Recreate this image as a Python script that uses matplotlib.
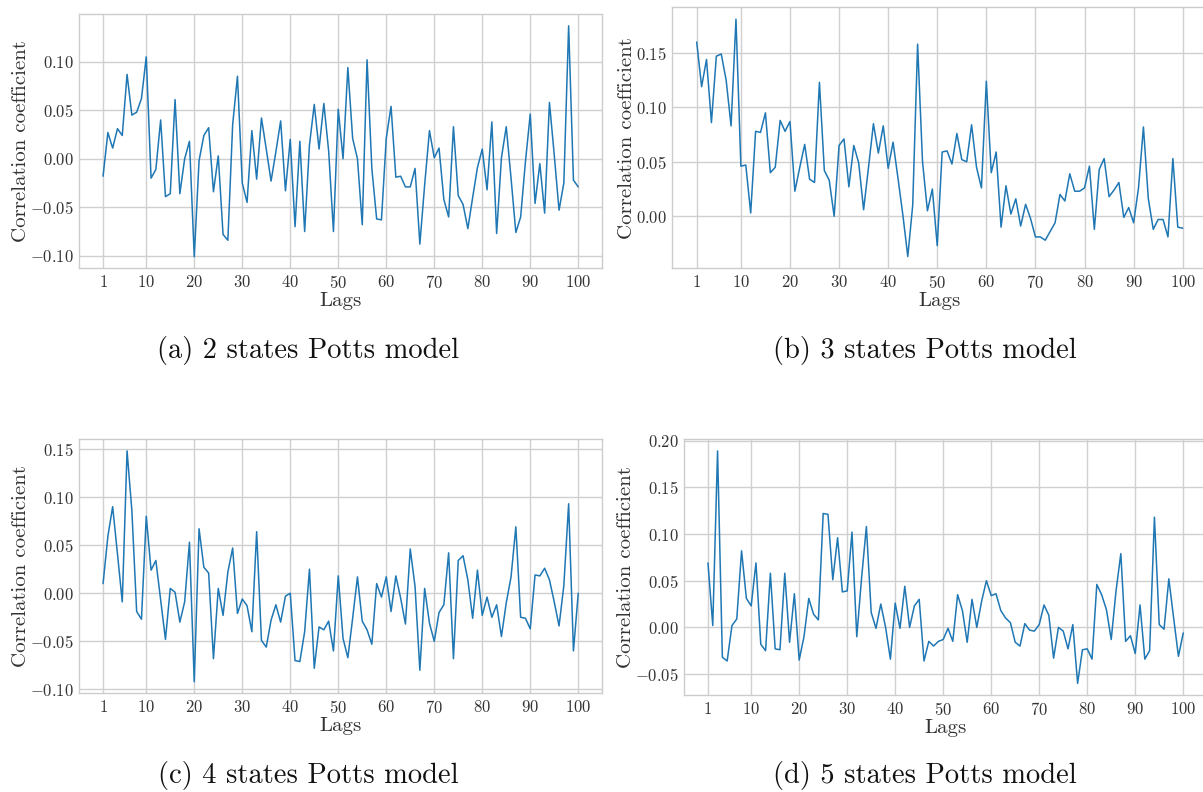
import matplotlib
matplotlib.use("Agg")
import matplotlib.pyplot as plt
import numpy as np

lags = list(range(1, 101))
xtick_vals = [1, 10, 20, 30, 40, 50, 60, 70, 80, 90, 100]

potts2 = [-0.018, 0.027, 0.011, 0.031, 0.024, 0.087, 0.045, 0.048, 0.062, 0.105,
          -0.020, -0.011, 0.040, -0.039, -0.036, 0.061, -0.036, 0.000, 0.018, -0.101,
          -0.002, 0.024, 0.032, -0.034, 0.003, -0.078, -0.084, 0.035, 0.085, -0.025,
          -0.045, 0.029, -0.021, 0.042, 0.010, -0.023, 0.007, 0.039, -0.033, 0.020,
          -0.070, 0.018, -0.075, 0.014, 0.056, 0.010, 0.057, 0.008, -0.075, 0.051,
          0.000, 0.094, 0.021, 0.000, -0.068, 0.102, -0.010, -0.062, -0.063, 0.021,
          0.054, -0.019, -0.018, -0.029, -0.029, -0.010, -0.088, -0.027, 0.029, 0.001,
          0.011, -0.042, -0.060, 0.033, -0.038, -0.047, -0.072, -0.040, -0.009, 0.010,
          -0.032, 0.038, -0.077, 0.001, 0.033, -0.020, -0.076, -0.060, -0.003, 0.046,
          -0.046, -0.005, -0.056, 0.058, 0.004, -0.053, -0.025, 0.137, -0.022, -0.029]

potts3 = [0.160, 0.119, 0.144, 0.086, 0.147, 0.149, 0.125, 0.083, 0.181, 0.046,
          0.047, 0.003, 0.078, 0.077, 0.095, 0.040, 0.045, 0.088, 0.078, 0.087,
          0.023, 0.045, 0.066, 0.034, 0.031, 0.123, 0.042, 0.033, 0.000, 0.065,
          0.071, 0.027, 0.065, 0.049, 0.006, 0.045, 0.085, 0.058, 0.083, 0.044,
          0.068, 0.035, 0.001, -0.037, 0.010, 0.158, 0.050, 0.005, 0.025, -0.027,
          0.059, 0.060, 0.048, 0.076, 0.052, 0.050, 0.084, 0.045, 0.026, 0.124,
          0.040, 0.059, -0.010, 0.028, 0.002, 0.016, -0.009, 0.011, -0.002, -0.019,
          -0.019, -0.022, -0.014, -0.006, 0.020, 0.014, 0.039, 0.023, 0.023, 0.026,
          0.046, -0.012, 0.043, 0.053, 0.018, 0.024, 0.031, -0.001, 0.008, -0.006,
          0.026, 0.082, 0.016, -0.012, -0.003, -0.003, -0.019, 0.053, -0.010, -0.011]

potts4 = [0.010, 0.059, 0.090, 0.041, -0.009, 0.148, 0.086, -0.019, -0.027, 0.080,
          0.024, 0.034, -0.007, -0.048, 0.005, 0.001, -0.030, -0.009, 0.053, -0.092,
          0.067, 0.027, 0.021, -0.068, 0.005, -0.023, 0.022, 0.047, -0.021, -0.006,
          -0.013, -0.040, 0.064, -0.049, -0.056, -0.028, -0.012, -0.030, -0.003, 0.000,
          -0.070, -0.071, -0.040, 0.025, -0.078, -0.035, -0.038, -0.029, -0.060, 0.018,
          -0.047, -0.067, -0.026, 0.017, -0.029, -0.038, -0.053, 0.010, -0.004, 0.017,
          -0.019, 0.018, -0.005, -0.032, 0.046, 0.007, -0.080, 0.005, -0.031, -0.050,
          -0.020, -0.012, 0.042, -0.068, 0.034, 0.039, 0.014, -0.026, 0.024, -0.023,
          -0.004, -0.025, -0.012, -0.045, -0.010, 0.017, 0.069, -0.025, -0.026, -0.037,
          0.019, 0.018, 0.026, 0.014, -0.009, -0.034, 0.008, 0.093, -0.060, 0.000]

potts5 = [0.069, 0.002, 0.189, -0.032, -0.036, 0.002, 0.009, 0.082, 0.031, 0.023,
          0.069, -0.018, -0.025, 0.058, -0.023, -0.024, 0.058, -0.016, 0.036, -0.035,
          -0.010, 0.031, 0.014, 0.008, 0.122, 0.121, 0.051, 0.096, 0.038, 0.039,
          0.102, -0.010, 0.053, 0.108, 0.016, -0.001, 0.025, 0.000, -0.034, 0.026,
          -0.001, 0.044, 0.000, 0.023, 0.030, -0.036, -0.015, -0.020, -0.015, -0.013,
          -0.001, -0.015, 0.035, 0.018, -0.016, 0.030, 0.000, 0.028, 0.050, 0.034,
          0.036, 0.018, 0.010, 0.005, -0.016, -0.020, 0.004, -0.003, -0.004, 0.003,
          0.024, 0.013, -0.033, 0.000, -0.004, -0.023, 0.003, -0.060, -0.024, -0.023,
          -0.034, 0.046, 0.035, 0.019, -0.013, 0.039, 0.079, -0.015, -0.009, -0.028,
          0.024, -0.034, -0.025, 0.118, 0.003, -0.002, 0.052, 0.010, -0.031, -0.006]

captions = ["(a) 2 states Potts model", "(b) 3 states Potts model",
            "(c) 4 states Potts model", "(d) 5 states Potts model"]
series = [potts2, potts3, potts4, potts5]

plt.style.use("seaborn-v0_8-whitegrid")
plt.rcParams["font.family"] = "serif"
plt.rcParams["font.serif"] = ["cmr10"]
plt.rcParams["mathtext.fontset"] = "cm"
plt.rcParams["axes.formatter.use_mathtext"] = True
plt.rcParams["axes.unicode_minus"] = True

W, H = 1203, 792
fig = plt.figure(figsize=(W / 100, H / 100), dpi=100)

# pixel boxes: left, right, top, bottom
boxes = [(79.3, 602.0, 14.3, 268.3),
         (672.4, 1207.0, 7.3, 268.4),
         (79.3, 602.0, 439.3, 693.3),
         (684.2, 1207.0, 439.3, 695.0)]
cap_pos = [(308, 351), (925, 351), (308, 775), (925, 775)]

for data, box, cap, cp in zip(series, boxes, captions, cap_pos):
    l, r, t, b = box
    ax = fig.add_axes([l / W, 1 - b / H, (r - l) / W, (b - t) / H])
    ax.plot(lags, data, color="#1f77b4", lw=1.1)
    ax.set_xticks(xtick_vals)
    ax.tick_params(labelsize=12, colors="#333333", pad=4)
    ax.set_xlabel("Lags", fontsize=15, color="#333333", labelpad=1)
    ax.set_ylabel("Correlation coefficient", fontsize=15, color="#333333", labelpad=0)
    for s in ax.spines.values():
        s.set_color("#cccccc")
        s.set_linewidth(1.0)
    ax.grid(True, color="#d0d0d0", lw=1.0)
    fig.text(cp[0] / W, 1 - cp[1] / H, cap, ha="center", va="center",
             fontsize=20.5, color="#111111")

fig.savefig("out.png", dpi=100)
